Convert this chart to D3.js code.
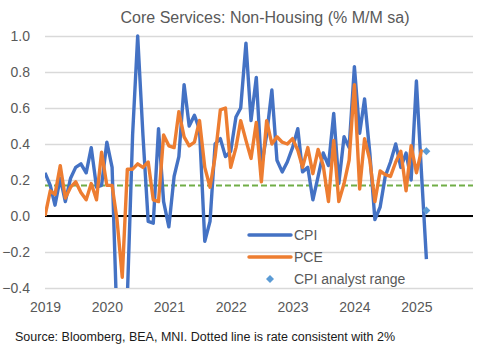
<!DOCTYPE html>
<html>
<head>
<meta charset="utf-8">
<script src="https://cdn.jsdelivr.net/npm/d3@7"></script>
<style>
  body { margin: 0; background: #fff; }
  svg { display: block; font-family: "Liberation Sans", Arial, sans-serif; }
</style>
</head>
<body>
<svg></svg>
<script>
// monthly values, Jan 2019 onwards
const firstMonth = "2019-01";
const cpiValues = [
  0.24, 0.17, 0.06, 0.21, 0.08, 0.21, 0.27, 0.29, 0.24, 0.38, 0.16, 0.17,
  0.41, 0.27, -0.60, -1.00, -0.45, 0.45, 1.00, 0.45, -0.03, -0.04, 0.485, 0.08,
  -0.06, 0.22, 0.33, 0.73, 0.50, 0.56, 0.48, -0.14, -0.03, 0.40, 0.43, 0.33,
  0.36, 0.55, 0.60, 0.96, 0.53, 0.77, 0.27, 0.45, 0.70, 0.31, 0.245, 0.30,
  0.38, 0.485, 0.245, 0.27, 0.09, 0.22, 0.35, 0.28, 0.57, 0.18, 0.44, 0.38,
  0.83, 0.46, 0.65, 0.35, -0.02, 0.05, 0.22, 0.30, 0.40, 0.27, 0.35, 0.20,
  0.75, 0.22, -0.24
];
const pceValues = [
  0.00, 0.14, 0.12, 0.28, 0.10, 0.16, 0.19, 0.13, 0.09, 0.18, 0.09, 0.355,
  0.17, 0.17, -0.02, -0.34, 0.26, 0.26, 0.29, 0.27, 0.30, 0.09, 0.08, 0.45,
  0.39, 0.38, 0.58, 0.44, 0.39, 0.41, 0.53, 0.27, 0.16, 0.33, 0.59, 0.60,
  0.27, 0.38, 0.53, 0.42, 0.32, 0.52, 0.19, 0.53, 0.40, 0.44, 0.41, 0.40,
  0.43, 0.365, 0.27, 0.38, 0.235, 0.37, 0.28, 0.08, 0.42, 0.08, 0.18, 0.31,
  0.73, 0.15, 0.43, 0.31, 0.08, 0.25, 0.23, 0.22, 0.30, 0.36, 0.14, 0.39,
  0.24, 0.37
];
const analystMonth = "2025-03";
const analystRange = [0.36, 0.03];
const targetRate = 0.17;
const yTicks = [-0.4, -0.2, 0, 0.2, 0.4, 0.6, 0.8, 1.0];
const xYears = [2019, 2020, 2021, 2022, 2023, 2024, 2025];

const width = 494;
const height = 348;
const marginTop = 36;
const marginRight = 21;
const marginBottom = 60;
const marginLeft = 45;

const parseMonth = d3.timeParse("%Y-%m");
const start = parseMonth(firstMonth);
const monthOf = i => d3.timeMonth.offset(start, i);

const cpi = cpiValues.map((v, i) => ({date: monthOf(i), value: v}));
const pce = pceValues.map((v, i) => ({date: monthOf(i), value: v}));
const analyst = analystRange.map(v => ({date: parseMonth(analystMonth), value: v}));

const x = d3.scaleTime()
    .domain([new Date(2019, 0, 1), new Date(2025, 11, 1)])
    .range([marginLeft, width - marginRight]);

const y = d3.scaleLinear()
    .domain([-0.4, 1.0])
    .range([height - marginBottom, marginTop]);

const svg = d3.select("svg")
    .attr("width", width)
    .attr("height", height)
    .attr("viewBox", [0, 0, width, height]);

svg.append("defs").append("clipPath")
    .attr("id", "plot")
  .append("rect")
    .attr("x", marginLeft)
    .attr("y", marginTop - 2)
    .attr("width", width - marginLeft - marginRight)
    .attr("height", height - marginTop - marginBottom + 2);

// title
svg.append("text")
    .attr("x", 265)
    .attr("y", 23)
    .attr("text-anchor", "middle")
    .attr("fill", "#595959")
    .attr("font-size", 16)
    .text("Core Services: Non-Housing (% M/M sa)");

// y axis with grid lines
svg.append("g")
    .attr("transform", `translate(${marginLeft},0)`)
    .call(d3.axisLeft(y).tickValues(yTicks).tickFormat(d3.format(".1f")).tickSize(0).tickPadding(15))
    .call(g => g.select(".domain").remove())
    .call(g => g.selectAll(".tick text").attr("fill", "#595959").attr("font-size", 14))
    .call(g => g.selectAll(".tick line").clone()
        .attr("x2", width - marginLeft - marginRight)
        .attr("stroke", "#d9d9d9")
        .attr("stroke-width", 1.3));

// x axis labels at the bottom
svg.append("g")
    .attr("transform", `translate(0,${height - marginBottom})`)
    .call(d3.axisBottom(x).tickValues(xYears.map(yr => new Date(yr, 0, 1))).tickFormat(d3.timeFormat("%Y")).tickSize(0).tickPadding(14))
    .call(g => g.select(".domain").remove())
    .call(g => g.selectAll(".tick text").attr("fill", "#595959").attr("font-size", 14));

// 2% consistent rate
svg.append("line")
    .attr("x1", marginLeft)
    .attr("x2", width - marginRight)
    .attr("y1", y(targetRate))
    .attr("y2", y(targetRate))
    .attr("stroke", "#70ad47")
    .attr("stroke-width", 2)
    .attr("stroke-dasharray", "6,3");

// zero line
svg.append("line")
    .attr("x1", marginLeft)
    .attr("x2", width - marginRight)
    .attr("y1", y(0))
    .attr("y2", y(0))
    .attr("stroke", "#000")
    .attr("stroke-width", 2);

const line = d3.line()
    .x(d => x(d.date))
    .y(d => y(d.value));

const plot = svg.append("g").attr("clip-path", "url(#plot)");

plot.append("path")
    .datum(cpi)
    .attr("fill", "none")
    .attr("stroke", "#4472c4")
    .attr("stroke-width", 3.4)
    .attr("stroke-linejoin", "round")
    .attr("d", line);

plot.append("path")
    .datum(pce)
    .attr("fill", "none")
    .attr("stroke", "#ed7d31")
    .attr("stroke-width", 3.4)
    .attr("stroke-linejoin", "round")
    .attr("d", line);

const diamond = d3.symbol(d3.symbolSquare, 32);

svg.append("g")
  .selectAll()
  .data(analyst)
  .join("path")
    .attr("transform", d => `translate(${x(d.date)},${y(d.value)}) rotate(45)`)
    .attr("fill", "#5b9bd5")
    .attr("d", diamond);

// legend
const legend = svg.append("g")
    .attr("font-size", 14)
    .attr("fill", "#595959");

const legendItems = [
  {label: "CPI", color: "#4472c4", type: "line"},
  {label: "PCE", color: "#ed7d31", type: "line"},
  {label: "CPI analyst range", color: "#5b9bd5", type: "diamond"}
];

legendItems.forEach((item, i) => {
  const ly = 235 + i * 22;
  if (item.type === "line") {
    legend.append("line")
        .attr("x1", 249).attr("x2", 291)
        .attr("y1", ly).attr("y2", ly)
        .attr("stroke", item.color)
        .attr("stroke-width", 3.4)
        .attr("stroke-linecap", "round");
  } else {
    legend.append("path")
        .attr("transform", `translate(270,${ly}) rotate(45)`)
        .attr("fill", item.color)
        .attr("d", diamond);
  }
  legend.append("text")
      .attr("x", 294)
      .attr("y", ly)
      .attr("dy", "0.35em")
      .text(item.label);
});

// source note
svg.append("text")
    .attr("x", 15)
    .attr("y", 341)
    .attr("font-size", 12.5)
    .attr("fill", "#1a1a1a")
    .text("Source: Bloomberg, BEA, MNI. Dotted line is rate consistent with 2%");
</script>
</body>
</html>
